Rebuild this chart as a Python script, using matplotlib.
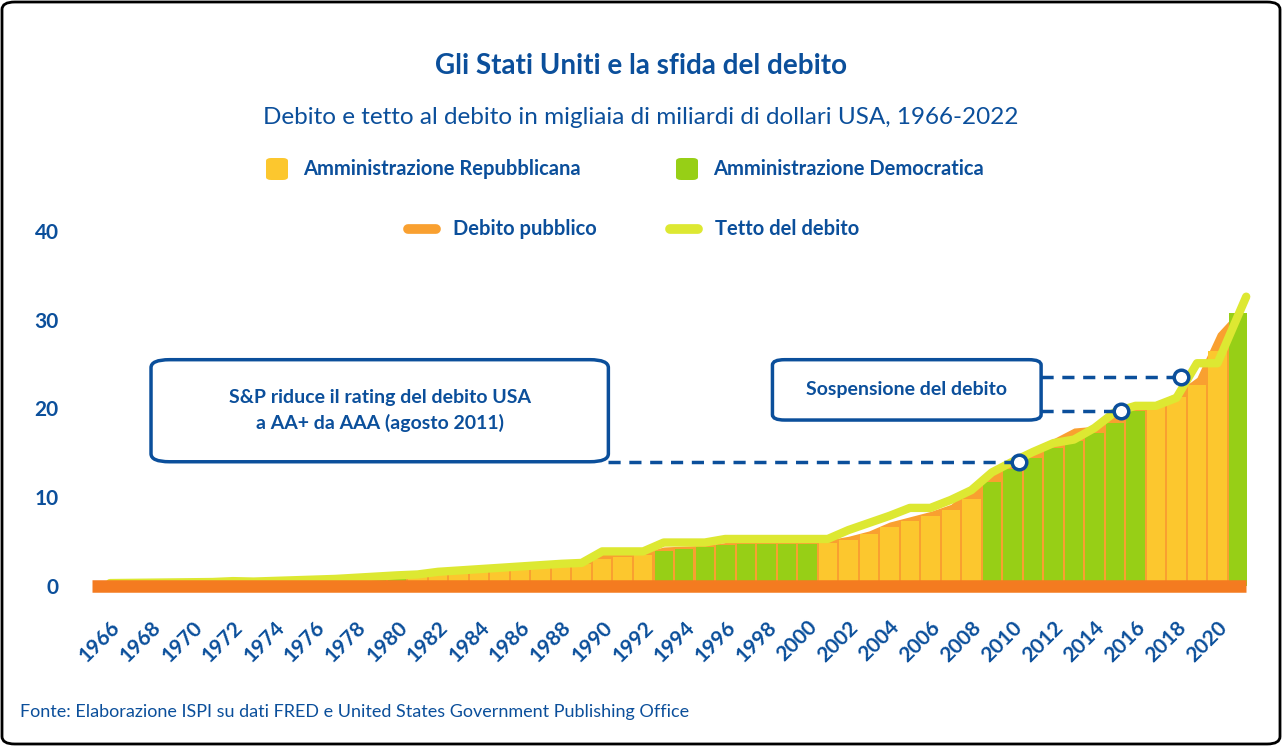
import matplotlib.pyplot as plt
from matplotlib.patches import FancyBboxPatch
from matplotlib.lines import Line2D

plt.rcParams['font.family'] = ['Lato', 'DejaVu Sans']

BLUE = '#0b4f9b'
YEL = '#fcc72e'
GRN = '#97cf16'
ORA = '#f9a030'
BASE = '#f47b20'
CEIL = '#dde832'

years = list(range(1966, 2022))
# 'R' = amministrazione repubblicana, 'D' = democratica
party = (['R'] * 11 + ['D'] * 4 + ['R'] * 12 + ['D'] * 8 + ['R'] * 8 +
         ['D'] * 8 + ['R'] * 4 + ['D'])
bars = [0.3, 0.32, 0.34, 0.35, 0.36, 0.38, 0.4, 0.42, 0.45, 0.5, 0.6,
        0.7, 0.8, 0.9, 1.0, 1.05, 1.2, 1.4, 1.6, 1.8, 2.1, 2.3, 2.4, 2.5,
        3.0, 3.3, 3.5, 4.0, 4.2, 4.4, 4.6, 4.7, 4.7, 4.7, 4.7, 4.9, 5.2,
        5.9, 6.6, 7.3, 7.9, 8.6, 9.8, 11.7, 13.2, 14.4, 15.6, 16.3, 17.2,
        18.4, 19.7, 20.2, 21.3, 22.6, 26.5, 30.8]
debito = [0.32, 0.34, 0.37, 0.37, 0.38, 0.41, 0.44, 0.47, 0.49, 0.54, 0.63,
          0.75, 0.85, 0.95, 1.05, 1.15, 1.4, 1.6, 1.8, 2.0, 2.3, 2.5, 2.6,
          2.7, 3.6, 3.7, 3.8, 4.4, 4.5, 4.6, 4.9, 4.9, 4.9, 4.9, 4.9, 5.2,
          5.6, 6.2, 7.2, 7.8, 8.4, 9.2, 11.2, 12.6, 14.0, 15.3, 16.6, 17.8,
          18.0, 19.4, 20.0, 20.6, 21.8, 23.5, 28.5, 31.0]
tetto_x = [1966, 1971, 1972, 1973, 1977, 1980, 1981, 1982, 1988, 1989, 1990,
           1992, 1993, 1995, 1996, 2001, 2002, 2003, 2004, 2005, 2006, 2007,
           2008, 2009, 2010, 2011, 2012, 2013, 2014, 2015, 2016, 2017, 2018,
           2019, 2020, 2021.4]
tetto_y = [0.33, 0.45, 0.55, 0.5, 0.8, 1.2, 1.3, 1.6, 2.5, 2.6, 3.9,
           3.9, 4.9, 4.9, 5.3, 5.3, 6.3, 7.1, 7.9, 8.8, 8.8, 9.7,
           10.8, 12.8, 14.0, 15.1, 16.1, 16.5, 17.8, 19.6, 20.3, 20.3, 21.2,
           25.1, 25.1, 32.6]
punti_x = [2010.3, 2015.3, 2018.2]
punti_y = [14.0, 19.7, 23.5]

fig = plt.figure(figsize=(12.82, 7.46), dpi=100)
W, H = 1282, 746
# asse: 1966 -> x=110px, 2021 -> 1238px ; y 0 -> 586px, 40 -> 231px
ppy = (1238 - 110) / 55
x0, x1 = 1963.5, 2023.5
y0, y1 = -1, 43
ppu = (586 - 231) / 40
left = 110 - (1966 - x0) * ppy
width = (x1 - x0) * ppy
bottom = H - 586 - (0 - y0) * ppu
height = (y1 - y0) * ppu
ax = fig.add_axes([left / W, bottom / H, width / W, height / H])
ax.set_xlim(x0, x1)
ax.set_ylim(y0, y1)
ax.patch.set_alpha(0)

ax.fill_between(years, debito, 0, color=ORA, zorder=1, lw=0)
cols = [YEL if p == 'R' else GRN for p in party]
ax.bar(years, bars, width=0.9, color=cols, linewidth=0, zorder=2)
ax.plot(tetto_x, tetto_y, color=CEIL, lw=6, solid_capstyle='round', zorder=3)
ax.plot([1965.1, 2021.4], [0, 0], color=BASE, lw=9, solid_capstyle='butt', zorder=4)

# annotazioni
ax.add_patch(FancyBboxPatch((1968.0, 14.0), 22.3, 11.5,
                            boxstyle='round,pad=0,rounding_size=0.9',
                            fc='white', ec=BLUE, lw=2.5, zorder=5))
ax.text(1979.15, 19.75, 'S&P riduce il rating del debito USA\na AA+ da AAA (agosto 2011)',
        ha='center', va='center', color=BLUE, fontsize=14, fontweight='bold',
        linespacing=1.5, zorder=6)
ax.add_patch(FancyBboxPatch((1998.3, 18.7), 13.1, 6.8,
                            boxstyle='round,pad=0,rounding_size=0.6',
                            fc='white', ec=BLUE, lw=2.5, zorder=5))
ax.text(2004.85, 22.1, 'Sospensione del debito', ha='center', va='center',
        color=BLUE, fontsize=14, fontweight='bold', zorder=6)
dash = (0, (3.5, 2.5))
ax.plot([1990.3, punti_x[0]], [punti_y[0]] * 2, ls=dash, color=BLUE, lw=2.5, zorder=6)
ax.plot([2011.4, punti_x[1]], [punti_y[1]] * 2, ls=dash, color=BLUE, lw=2.5, zorder=6)
ax.plot([2011.4, punti_x[2]], [punti_y[2]] * 2, ls=dash, color=BLUE, lw=2.5, zorder=6)
ax.scatter(punti_x, punti_y, s=110, facecolor='white', edgecolor=BLUE, linewidth=2.5, zorder=7)

for s in ax.spines.values():
    s.set_visible(False)
ax.set_yticks([0, 10, 20, 30, 40])
ax.tick_params(axis='y', length=0, pad=0, labelsize=15, labelcolor=BLUE)
for t in ax.get_yticklabels():
    t.set_fontweight('bold')
ax.set_xticks(years[::2])
ax.set_xticklabels([str(y) for y in years[::2]], rotation=45, ha='right',
                   rotation_mode='anchor', fontsize=15, fontweight='bold', color=BLUE)
ax.tick_params(axis='x', length=0, pad=16)

# titoli
fig.text(0.5, 1 - 66 / H, 'Gli Stati Uniti e la sfida del debito', ha='center', va='center',
         fontsize=20, fontweight='bold', color=BLUE)
fig.text(0.5, 1 - 118 / H, 'Debito e tetto al debito in migliaia di miliardi di dollari USA, 1966-2022',
         ha='center', va='center', fontsize=17.5, color=BLUE)
fig.text(20 / W, 1 - 712 / H, 'Fonte: Elaborazione ISPI su dati FRED e United States Government Publishing Office',
         ha='left', va='center', fontsize=13, color=BLUE)

# legenda
def patch(xp, col):
    fig.add_artist(FancyBboxPatch((xp / W, 1 - 180 / H), 22 / W, 22 / H,
                                  boxstyle='round,pad=0,rounding_size=0.004',
                                  transform=fig.transFigure, fc=col, ec='none'))
patch(266, YEL)
fig.text(303 / W, 1 - 169 / H, 'Amministrazione Repubblicana', va='center', fontsize=14.5,
         fontweight='bold', color=BLUE)
patch(676, GRN)
fig.text(713 / W, 1 - 169 / H, 'Amministrazione Democratica', va='center', fontsize=14.5,
         fontweight='bold', color=BLUE)
for xa, col, lab in [(408, ORA, 'Debito pubblico'), (670, CEIL, 'Tetto del debito')]:
    fig.add_artist(Line2D([xa / W, (xa + 28) / W], [1 - 229 / H] * 2, color=col, lw=7,
                          solid_capstyle='round', transform=fig.transFigure))
    fig.text((xa + 45) / W, 1 - 229 / H, lab, va='center', fontsize=14.5,
             fontweight='bold', color=BLUE)

fig.add_artist(FancyBboxPatch((2 / W, 2 / H), 1 - 4 / W, 1 - 4 / H,
                              boxstyle='round,pad=0,rounding_size=0.01',
                              transform=fig.transFigure, fc='none', ec='black', lw=2))

fig.savefig('out.png', dpi=100)
